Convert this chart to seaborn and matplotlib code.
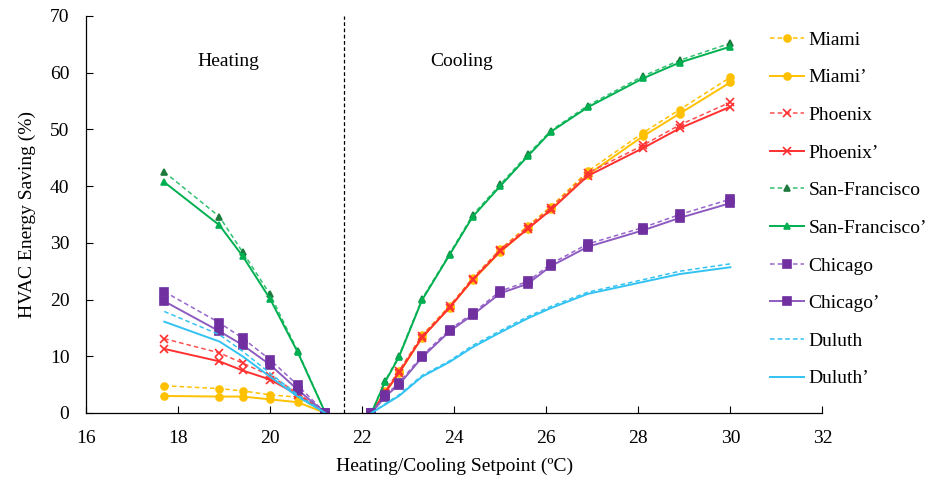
import matplotlib
matplotlib.use("Agg")
import matplotlib.pyplot as plt
import seaborn as sns
import pandas as pd

# ---- data ----
heat_x = [17.7, 18.9, 19.4, 20.0, 20.6, 21.2]
cool_x = [22.2, 22.5, 22.8, 23.3, 23.9, 24.4, 25.0, 25.6, 26.1, 26.9, 28.1, 28.9, 30.0]

miami_heat = [4.8, 4.3, 3.9, 3.2, 2.8, 0.0]
miami_heat_p = [3.0, 2.9, 2.9, 2.4, 1.9, 0.0]
phoenix_heat = [13.1, 10.6, 8.8, 6.6, 3.5, 0.0]
phoenix_heat_p = [11.3, 9.1, 7.5, 5.9, 3.2, 0.0]
sf_heat = [42.5, 34.6, 28.4, 20.9, 10.9, 0.0]
sf_heat_p = [40.7, 33.1, 27.7, 20.1, 10.7, 0.0]
chicago_heat = [21.4, 15.9, 13.2, 9.4, 4.9, 0.0]
chicago_heat_p = [19.7, 14.4, 12.0, 8.5, 4.1, 0.0]
duluth_heat = [17.9, 13.8, 10.9, 7.0, 3.2, 0.0]
duluth_heat_p = [16.1, 12.6, 10.0, 6.4, 2.9, 0.0]

miami_cool = [0, 3.9, 7.4, 13.7, 18.9, 23.8, 28.9, 33.0, 36.4, 42.6, 49.4, 53.5, 59.2]
miami_cool_p = [0, 3.6, 7.0, 13.3, 18.6, 23.4, 28.4, 32.5, 35.9, 42.0, 48.8, 52.8, 58.3]
phoenix_cool = [0, 3.9, 7.4, 13.6, 18.8, 23.7, 28.8, 32.8, 36.2, 42.3, 47.2, 50.8, 54.8]
phoenix_cool_p = [0, 3.6, 7.1, 13.3, 18.6, 23.5, 28.5, 32.5, 35.8, 41.8, 46.7, 50.2, 54.0]
sf_cool = [0, 5.7, 10.1, 20.1, 28.1, 34.9, 40.3, 45.6, 49.8, 54.2, 59.4, 62.2, 65.2]
sf_cool_p = [0, 5.5, 9.9, 19.9, 27.9, 34.6, 40.0, 45.3, 49.6, 53.9, 59.0, 61.8, 64.6]
chicago_cool = [0, 3.1, 5.3, 10.1, 14.7, 17.6, 21.5, 23.2, 26.3, 29.8, 32.7, 35.0, 37.7]
chicago_cool_p = [0, 2.9, 5.0, 9.8, 14.4, 17.3, 21.1, 22.8, 25.9, 29.3, 32.2, 34.4, 37.0]
duluth_cool = [0, 1.6, 3.2, 6.6, 9.2, 11.9, 14.5, 17.0, 18.8, 21.3, 23.5, 25.0, 26.3]
duluth_cool_p = [0, 1.5, 3.0, 6.4, 9.0, 11.6, 14.2, 16.7, 18.5, 21.0, 23.1, 24.5, 25.7]

labels = ["Miami", "Miami\u2019", "Phoenix", "Phoenix\u2019", "San-Francisco",
          "San-Francisco\u2019", "Chicago", "Chicago\u2019", "Duluth", "Duluth\u2019"]
heat_series = [miami_heat, miami_heat_p, phoenix_heat, phoenix_heat_p, sf_heat,
               sf_heat_p, chicago_heat, chicago_heat_p, duluth_heat, duluth_heat_p]
cool_series = [miami_cool, miami_cool_p, phoenix_cool, phoenix_cool_p, sf_cool,
               sf_cool_p, chicago_cool, chicago_cool_p, duluth_cool, duluth_cool_p]

x_ticks = [16, 18, 20, 22, 24, 26, 28, 30, 32]
y_ticks = [0, 10, 20, 30, 40, 50, 60, 70]

# ---- styles ----
line_colors = ["#FFC000", "#FFC000", "#FF5050", "#FF3030", "#33C070", "#00B050",
               "#9966CC", "#8E5CC0", "#33C3F3", "#33C3F3"]
marker_colors = ["#FFC000", "#FFC000", "#FF3030", "#FF3030", "#1E7A3C", "#00B050",
                 "#7030A0", "#7030A0", None, None]
markers = ["o", "o", "x", "x", "^", "^", "s", "s", None, None]
msizes = [5, 5, 6, 6, 5, 5, 6, 6, 0, 0]
dashed = [True, False] * 5

plt.rcParams["font.family"] = ["Liberation Serif", "DejaVu Serif"]

fig = plt.figure(figsize=(9.27, 4.79), dpi=100)
ax = fig.add_axes([0.0928, 0.1378, 0.7944, 0.8288])

for i in range(10):
    ls = (0, (3, 2)) if dashed[i] else "-"
    lw = 1.1 if dashed[i] else 1.4
    kw = dict(color=line_colors[i], linestyle=ls, linewidth=lw)
    if markers[i] is not None:
        mc = marker_colors[i]
        kw.update(marker=markers[i], markersize=msizes[i], markerfacecolor=mc,
                  markeredgecolor=mc, markeredgewidth=1.2)
    df_h = pd.DataFrame({"x": heat_x, "y": heat_series[i]})
    df_c = pd.DataFrame({"x": cool_x, "y": cool_series[i]})
    sns.lineplot(data=df_h, x="x", y="y", ax=ax, label=labels[i], **kw)
    sns.lineplot(data=df_c, x="x", y="y", ax=ax, label="_nolegend_", **kw)

ax.axvline(21.6, color="black", linestyle=(0, (3, 2)), linewidth=0.9)
ax.text(19.1, 62, "Heating", fontsize=14, ha="center", va="center")
ax.text(24.15, 62, "Cooling", fontsize=14, ha="center", va="center")

ax.set_xlim(16, 32)
ax.set_ylim(0, 70)
ax.set_xticks(x_ticks)
ax.set_yticks(y_ticks)
ax.tick_params(direction="in", labelsize=14, length=5, width=0.8, pad=12)
for s in ["top", "right"]:
    ax.spines[s].set_visible(False)
for s in ["left", "bottom"]:
    ax.spines[s].set_linewidth(0.9)
ax.set_xlabel("Heating/Cooling Setpoint (ºC)", fontsize=14, labelpad=8)
ax.set_ylabel("HVAC Energy Saving (%)", fontsize=14, labelpad=10)

leg = ax.legend(loc="upper left", bbox_to_anchor=(0.831, 0.935),
                bbox_transform=fig.transFigure, frameon=False, fontsize=14,
                handlelength=1.75, handletextpad=0.2, labelspacing=1.03,
                borderaxespad=0, borderpad=0)

fig.savefig("out.png", dpi=100)
